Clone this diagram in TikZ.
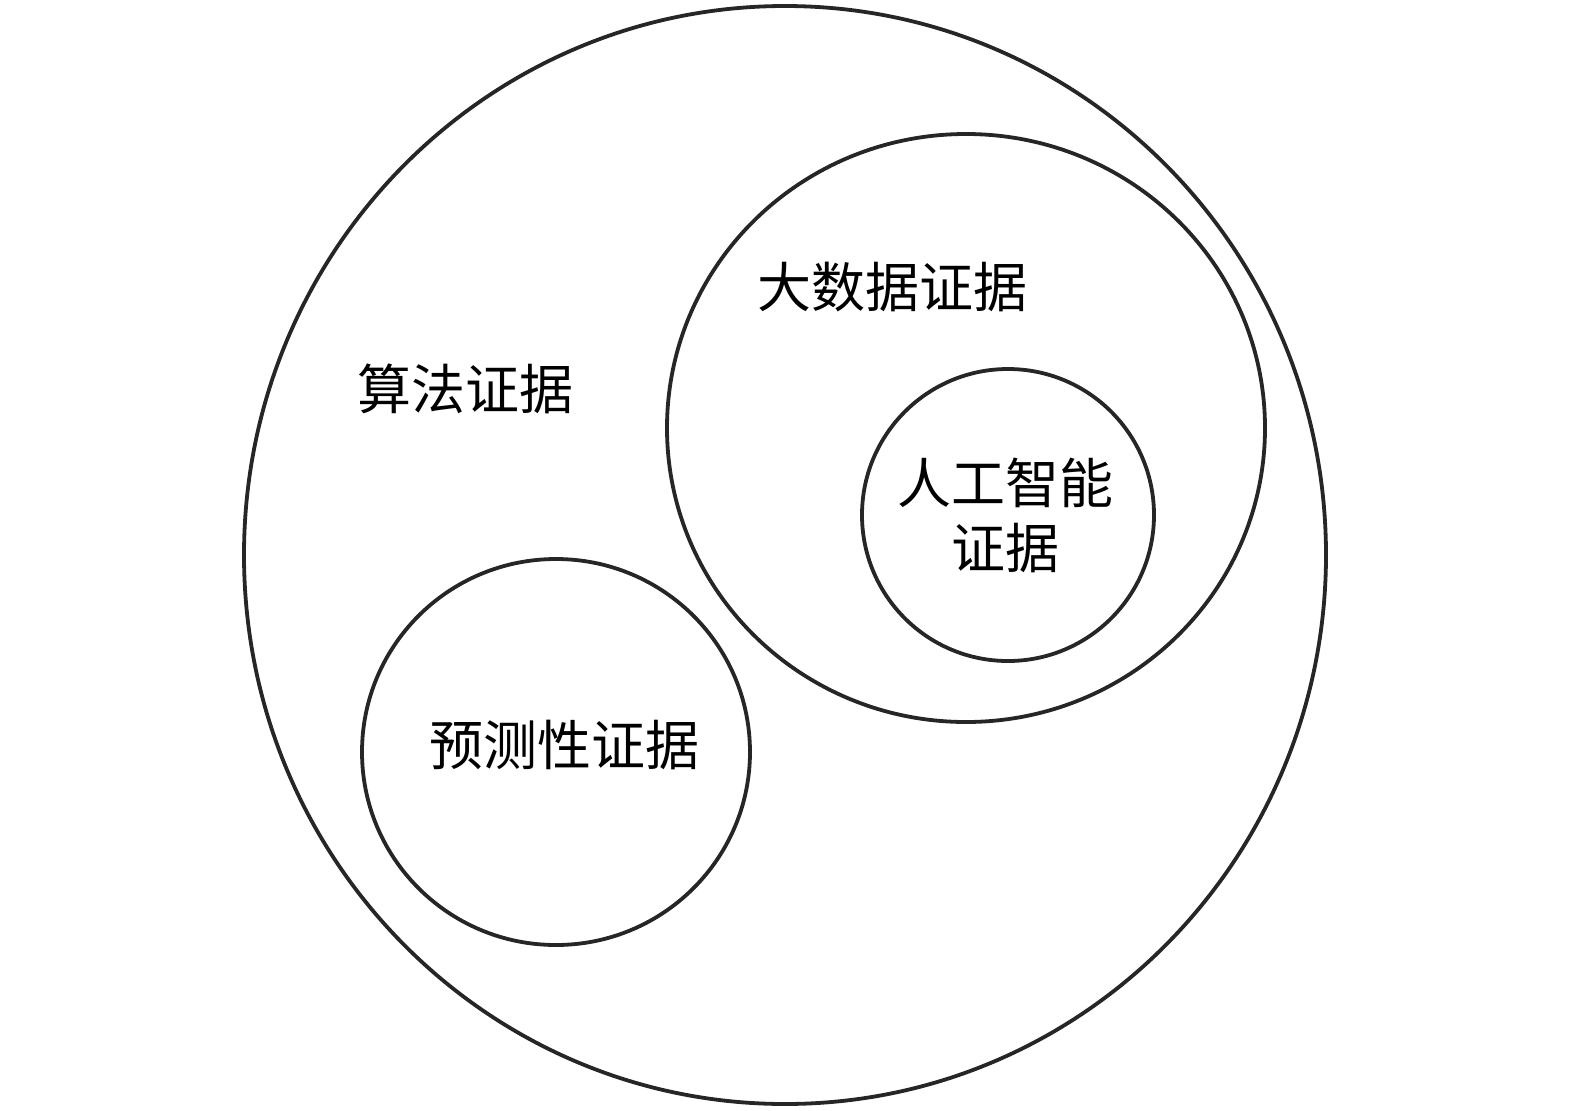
\documentclass[tikz,border=0pt]{standalone}
\usepackage{fontspec}
\newfontfamily\cjk{Noto Sans CJK SC}
\tikzset{
  cercle/.style={line width=1.9pt, draw=black!85},
  etiquette/.style={font=\cjk\fontsize{27}{32.5}\selectfont, inner sep=0pt, align=center}
}
\begin{document}
\begin{tikzpicture}[x=0.5pt,y=-0.5pt]
    % Cadre de l'image
    \useasboundingbox (0,0) rectangle (1575,1110);

    % Centres des cercles
    \coordinate (O) at (785,555);
    \coordinate (B) at (966,428);
    \coordinate (I) at (1008,515);
    \coordinate (P) at (556,752);

    % Tracé des cercles
    \draw[cercle] (O) ellipse [x radius=541, y radius=549];
    \draw[cercle] (B) ellipse [x radius=299, y radius=294];
    \draw[cercle] (I) ellipse [x radius=146, y radius=146];
    \draw[cercle] (P) ellipse [x radius=194, y radius=193];

    % Étiquettes
    \node[etiquette] (algo) at (465,389) {算法证据};
    \node[etiquette] (donnees) at (892,287) {大数据证据};
    \node[etiquette] (ia) at (1005,515) {人工智能\\证据};
    \node[etiquette] (predictif) at (564,745) {预测性证据};
\end{tikzpicture}
\end{document}
